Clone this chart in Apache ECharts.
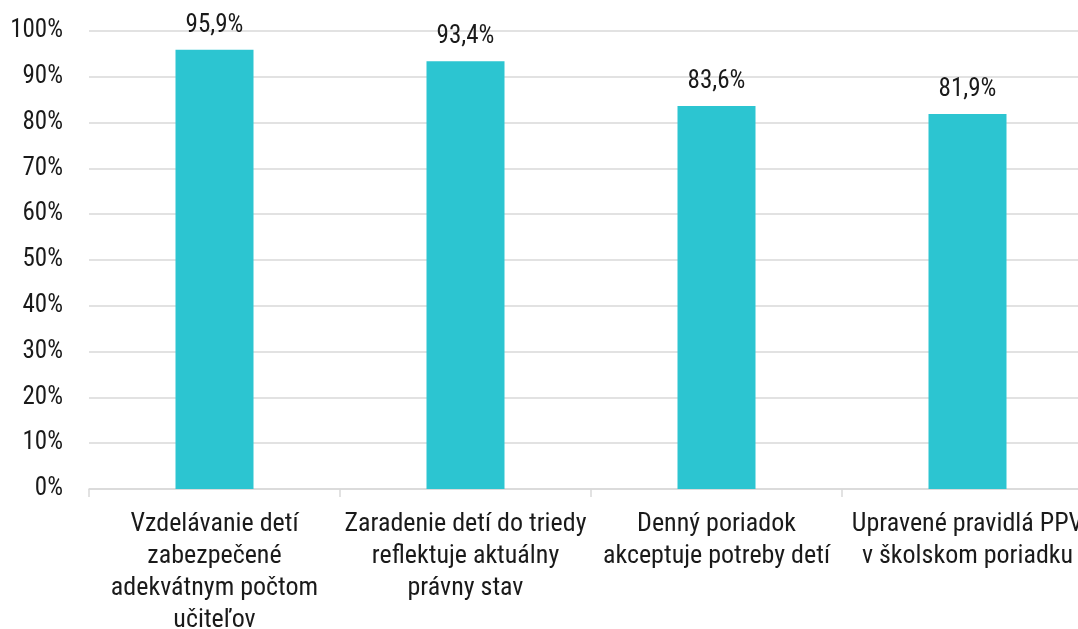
<!DOCTYPE html>
<html>
<head>
<meta charset="utf-8">
<script src="https://cdn.jsdelivr.net/npm/echarts@6/dist/echarts.min.js"></script>
<style>
html, body { margin: 0; padding: 0; background: #fff; }
#chart { width: 1078px; height: 629px; }
</style>
</head>
<body>
<div id="chart"></div>
<script>
// kategórie a hodnoty (%)
var categories = [
    'Vzdelávanie detí\nzabezpečené\nadekvátnym počtom\nučiteľov',
    'Zaradenie detí do triedy\nreflektuje aktuálny\nprávny stav',
    'Denný poriadok\nakceptuje potreby detí',
    'Upravené pravidlá PPV\nv školskom poriadku'
];
var values = [95.9, 93.4, 83.6, 81.9];
var yTicks = [0, 100, 10]; // min, max, interval

var FONT = '"Liberation Sans Narrow", "Roboto Condensed", Roboto, sans-serif';
var myChart = echarts.init(document.getElementById('chart'));
var option = {
    animation: false,
    grid: {
        left: 89,
        top: 31,
        width: 1004,
        height: 458,
        containLabel: false,
        outerBoundsMode: 'none'
    },
    xAxis: {
        type: 'category',
        data: categories,
        axisLine: { lineStyle: { color: '#d9d9d9', width: 1.5 } },
        axisTick: { show: true, length: 8, lineStyle: { color: '#d9d9d9', width: 1.5 } },
        axisLabel: {
            interval: 0,
            margin: 19,
            color: '#1a1a1a',
            fontFamily: FONT,
            fontSize: 26,
            lineHeight: 32
        }
    },
    yAxis: {
        type: 'value',
        min: yTicks[0],
        max: yTicks[1],
        interval: yTicks[2],
        axisLine: { show: false },
        axisTick: { show: false },
        splitLine: { lineStyle: { color: '#d9d9d9', width: 1.5 } },
        axisLabel: {
            margin: 26,
            color: '#1a1a1a',
            fontFamily: FONT,
            fontSize: 25,
            formatter: '{value}%'
        }
    },
    series: [{
        type: 'bar',
        data: values,
        barWidth: 78,
        itemStyle: { color: '#2cc5d1' },
        label: {
            show: true,
            position: 'top',
            distance: 12,
            color: '#1a1a1a',
            fontFamily: FONT,
            fontSize: 25,
            formatter: function (p) {
                return p.value.toFixed(1).replace('.', ',') + '%';
            }
        }
    }]
};
myChart.setOption(option);
</script>
</body>
</html>
